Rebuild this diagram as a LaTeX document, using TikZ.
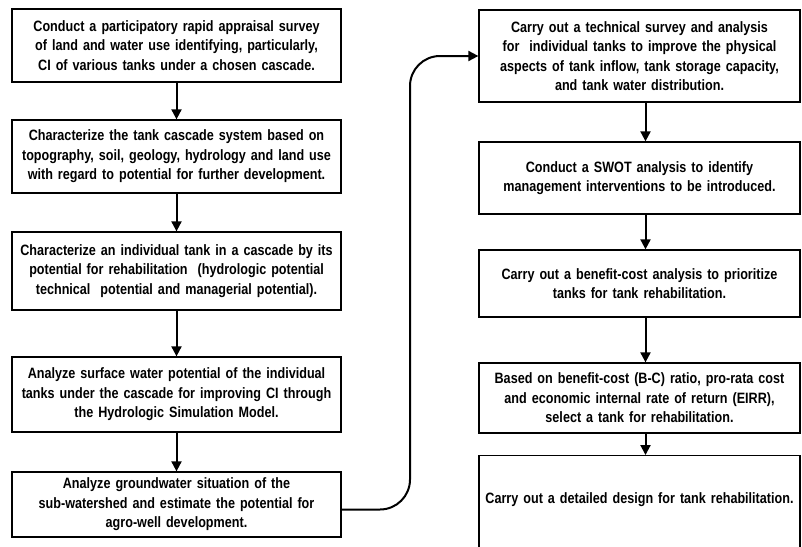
\documentclass[tikz,border=0pt]{standalone}
\usepackage{fontspec}
\setmainfont[FakeStretch=0.84]{Liberation Sans}
\usetikzlibrary{arrows.meta}
\begin{document}
\begin{tikzpicture}[x=1pt,y=-1pt,
    stepbox/.style={draw, line width=1.3pt, align=center, inner sep=2pt,
        font=\bfseries\fontsize{15}{19.5}\selectfont},
    leftbox/.style={stepbox, minimum width=329pt, text width=323pt},
    rightbox/.style={stepbox, minimum width=321pt, text width=315pt},
    flow/.style={line width=2pt, -{Triangle[width=10pt,length=10pt]}}]

    \clip (0,0) rectangle (802,546);

    \node[leftbox, minimum height=73pt] (l1) at (176.5,45.5) {Conduct a participatory rapid appraisal survey\\ of land and water use identifying, particularly,\\ CI of various tanks under a chosen cascade.};
    \node[leftbox, minimum height=73pt] (l2) at (176.5,156.5) {Characterize the tank cascade system based on\\ topography, soil, geology, hydrology and land use\\ with regard to potential for further development.};
    \node[leftbox, minimum height=78pt] (l3) at (176.5,271) {Characterize an individual tank in a cascade by its\\ potential for rehabilitation\ \ (hydrologic potential\\ technical\ \ potential and managerial potential).};
    \node[leftbox, minimum height=75pt] (l4) at (176.5,394.5) {Analyze surface water potential of the individual\\ tanks under the cascade for improving CI through\\ the Hydrologic Simulation Model.};
    \node[leftbox, minimum height=65pt] (l5) at (176.5,504.5) {Analyze groundwater situation of the\\ sub-watershed and estimate the potential for\\ agro-well development.};

    \node[rightbox, minimum height=92pt] (r1) at (639.5,56) {Carry out a technical survey and analysis\\ for\ \ individual tanks to improve the physical\\ aspects of tank inflow, tank storage capacity,\\ and tank water distribution.};
    \node[rightbox, minimum height=72pt] (r2) at (639.5,178) {Conduct a SWOT analysis to identify\\ management interventions to be introduced.};
    \node[rightbox, minimum height=67pt] (r3) at (639.5,283.5) {Carry out a benefit-cost analysis to prioritize\\ tanks for tank rehabilitation.};
    \node[rightbox, minimum height=70pt] (r4) at (639.5,398) {Based on benefit-cost (B-C) ratio, pro-rata cost\\ and economic internal rate of return (EIRR),\\ select a tank for rehabilitation.};
    \node[rightbox, anchor=north, minimum height=130pt, text depth=46pt] (r5) at (639.5,455) {Carry out a detailed design for tank rehabilitation.};

    \draw[flow] (l1.south) -- (l2.north);
    \draw[flow] (l2.south) -- (l3.north);
    \draw[flow] (l3.south) -- (l4.north);
    \draw[flow] (l4.south) -- (l5.north);

    \draw[flow] ([xshift=6pt]r1.south) -- ([xshift=6pt]r2.north);
    \draw[flow] ([xshift=6pt]r2.south) -- ([xshift=6pt]r3.north);
    \draw[flow] ([xshift=6pt]r3.south) -- ([xshift=6pt]r4.north);
    \draw[flow] ([xshift=6pt]r4.south) -- ([xshift=6pt]r5.north);

    \coordinate (spine) at (410,300);
    \draw[flow, rounded corners=30pt] ([yshift=-5pt]l5.east) -| (spine) |- (r1.west);

\end{tikzpicture}
\end{document}
